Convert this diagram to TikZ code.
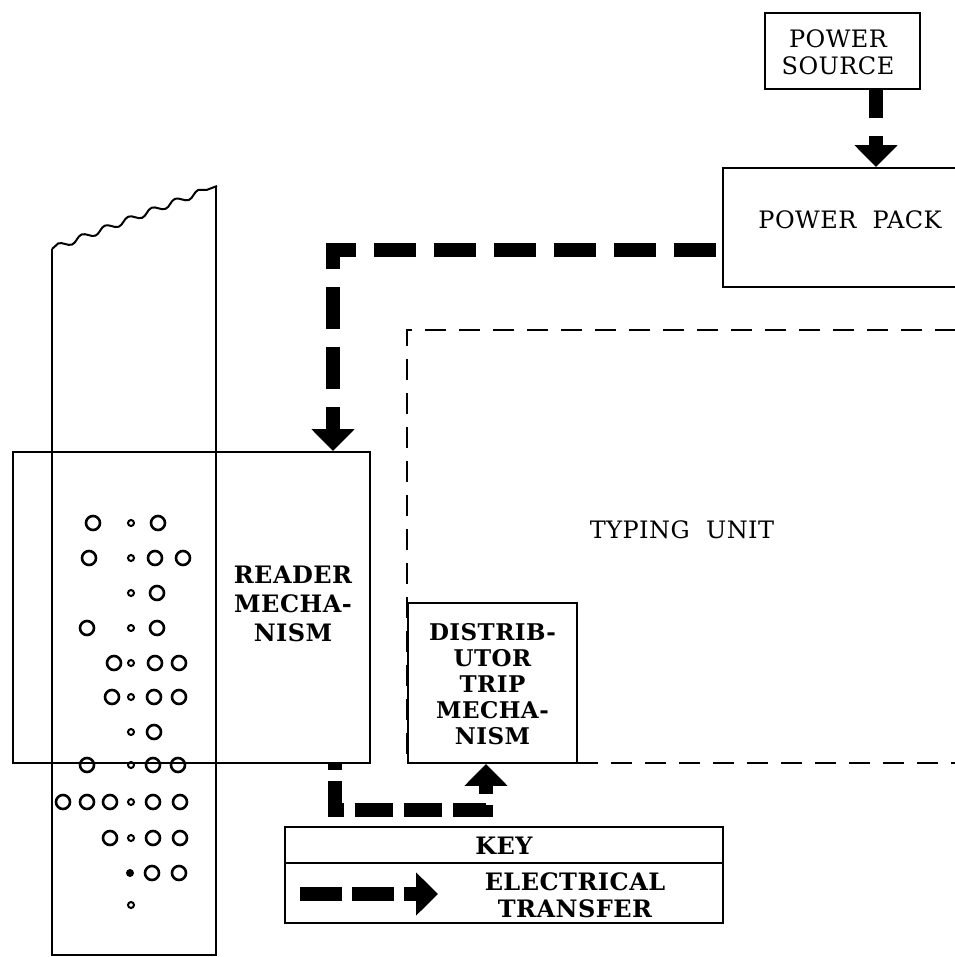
\documentclass[tikz,border=0pt]{standalone}
\usepackage{fontspec}
\setmainfont[LetterSpace=2]{DejaVu Serif}
\usetikzlibrary{arrows.meta,decorations.pathmorphing}
\begin{document}
\begin{tikzpicture}[x=1pt,y=-1pt,
  box/.style={draw, line width=1.9pt, rectangle, inner sep=0pt},
  lbl/.style={font=\fontsize{24}{27}\selectfont, align=center, inner sep=0pt},
  blbl/.style={font=\fontsize{24}{29}\selectfont\bfseries, align=center, inner sep=0pt},
  elec/.style={line width=14pt, -{Triangle[length=22pt,width=42pt]}},
  hole/.style={line width=2.6pt},
  feed/.style={line width=2pt}]
\useasboundingbox (0,0) rectangle (954,957);

% paper tape
\draw[line width=2pt, decorate, decoration={snake, segment length=25pt, amplitude=3pt}]
  (52,249) -- (217,186);
\draw[line width=1.9pt] (52,249) -- (52,955) -- (216,955) -- (216,186);

% holes
\foreach \x in {93,158} \draw[hole] (\x,523) circle (7);
\foreach \x in {89,155,183} \draw[hole] (\x,558) circle (7);
\foreach \x in {157} \draw[hole] (\x,593) circle (7);
\foreach \x in {87,157} \draw[hole] (\x,628) circle (7);
\foreach \x in {114,155,179} \draw[hole] (\x,663) circle (7);
\foreach \x in {112,154,179} \draw[hole] (\x,697) circle (7);
\foreach \x in {154} \draw[hole] (\x,732) circle (7);
\foreach \x in {87,153,178} \draw[hole] (\x,765) circle (7);
\foreach \x in {63,87,110,153,180} \draw[hole] (\x,802) circle (7);
\foreach \x in {110,153,180} \draw[hole] (\x,838) circle (7);
\foreach \x in {152,179} \draw[hole] (\x,873) circle (7);
\foreach \y in {523,558,593,628,663,697,732,765,802,838,905} \draw[feed] (131,\y) circle (3);
\fill (130,873) circle (4);

% boxes
\node[box, minimum width=155pt, minimum height=76pt] (ps) at (842.5,51) {};
\node[lbl] at (838,52) {POWER\\SOURCE};
\node[box, minimum width=252pt, minimum height=119pt] (pp) at (849,227.5) {};
\node[lbl] at (850,220) {POWER\ \ PACK};
\node[draw, line width=1.6pt, dash pattern=on 21pt off 13pt, rectangle, inner sep=0pt,
      minimum width=568pt, minimum height=433pt] (tu) at (691,546.5) {};
\node[lbl] at (682,530) {TYPING\ \ UNIT};
\node[box, minimum width=357pt, minimum height=311pt] (rd) at (191.5,607.5) {};
\node[blbl] at (293,604) {READER\\MECHA-\\NISM};
\node[box, fill=white, minimum width=169pt, minimum height=160pt] (dt) at (492.5,683) {};
\node[blbl, font=\fontsize{23}{26}\selectfont\bfseries] at (492.5,684) {DISTRIB-\\UTOR\\TRIP\\MECHA-\\NISM};
\node[box, minimum width=438pt, minimum height=96pt] (key) at (504,875) {};
\draw[line width=1.9pt] (key.west |- 0,863) -- (key.east |- 0,863);
\node[blbl] at (504,846) {KEY};
\node[blbl, font=\fontsize{24}{27}\selectfont\bfseries] at (575,895) {ELECTRICAL\\TRANSFER};

% connectors
\coordinate (psx) at (876,0);
\draw[elec, dash pattern=on 28pt off 18pt] (ps.south -| psx) -- (pp.north -| psx);
\coordinate (c1) at (333,250);
\draw[elec, dash pattern=on 42pt off 18pt, dash phase=54pt] (pp.west |- c1) -- (c1) -- (rd.north -| c1);
\coordinate (c2) at (335,810);
\coordinate (c3) at (486,810);
\draw[elec, dash pattern=on 38pt off 11pt, dash phase=32pt] (rd.south -| c2) -- (c2) -- (c3) -- (dt.south -| c3);
% key sample
\coordinate (k1) at (300,894);
\coordinate (k2) at (438,894);
\draw[elec, dash pattern=on 42pt off 10pt] (k1) -- (k2);
\end{tikzpicture}
\end{document}
